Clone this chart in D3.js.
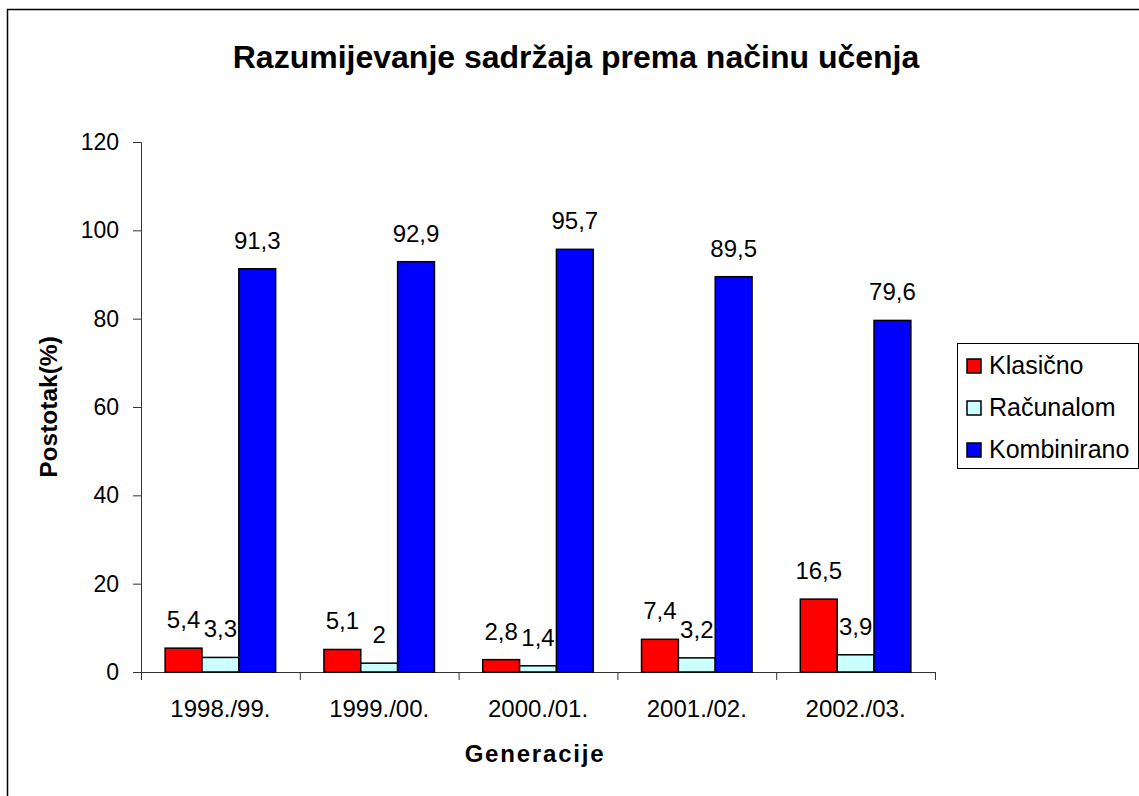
<!DOCTYPE html>
<html>
<head>
<meta charset="utf-8">
<script src="https://cdn.jsdelivr.net/npm/d3@7"></script>
<style>
  body { margin: 0; background: #fff; }
  text { font-family: "Liberation Sans", Arial, sans-serif; fill: #000; }
</style>
</head>
<body>
<svg id="chart" width="1139" height="796"></svg>
<script>
// chart data
var generacije = ["1998./99.", "1999./00.", "2000./01.", "2001./02.", "2002./03."];
var serije = ["Klasično", "Računalom", "Kombinirano"];
var klasicno = [5.4, 5.1, 2.8, 7.4, 16.5];
var racunalom = [3.3, 2, 1.4, 3.2, 3.9];
var kombinirano = [91.3, 92.9, 95.7, 89.5, 79.6];
var yTicks = [0, 20, 40, 60, 80, 100, 120];
var boje = ["#ff0000", "#ccffff", "#0000ff"];

var values = [klasicno, racunalom, kombinirano];

var svg = d3.select("#chart");

// outer frame (runs off the right and bottom edge)
svg.append("rect")
    .attr("x", 7.5).attr("y", 9.5)
    .attr("width", 1200).attr("height", 900)
    .attr("fill", "#fff")
    .attr("stroke", "#000")
    .attr("stroke-width", 1.5);

var plotLeft = 141, plotRight = 935, plotTop = 142, plotBottom = 672;

var x = d3.scaleBand().domain(generacije).range([plotLeft, plotRight]).paddingInner(0).paddingOuter(0);
var barW = x.bandwidth() * 0.232;
var gap = (x.bandwidth() - 3 * barW) / 2;

var y = d3.scaleLinear().domain([0, 120]).range([plotBottom, plotTop]);

// title
svg.append("text")
    .attr("x", 576).attr("y", 68)
    .attr("text-anchor", "middle")
    .style("font-size", "32px")
    .style("font-weight", "bold")
    .text("Razumijevanje sadržaja prema načinu učenja");

// y axis
var yAxis = d3.axisLeft(y).tickValues(yTicks).tickSize(8).tickPadding(14).tickFormat(d3.format("d"));
var gy = svg.append("g").attr("transform", "translate(" + plotLeft + ",0)").call(yAxis);
gy.select(".domain").attr("stroke", "#333");
gy.selectAll(".tick line").attr("stroke", "#333");
gy.selectAll("text").style("font-size", "23px").style("font-family", "'Liberation Sans', Arial, sans-serif");

// x axis: ticks on category boundaries
svg.append("line")
    .attr("x1", plotLeft).attr("x2", plotRight)
    .attr("y1", plotBottom + 0.5).attr("y2", plotBottom + 0.5)
    .attr("stroke", "#333");
var granice = generacije.map(function(g){ return x(g); }).concat([plotRight]);
svg.selectAll("line.xt")
    .data(granice)
    .enter().append("line")
    .attr("class", "xt")
    .attr("x1", function(d){ return d + 0.5; })
    .attr("x2", function(d){ return d + 0.5; })
    .attr("y1", plotBottom).attr("y2", plotBottom + 8)
    .attr("stroke", "#333");

svg.selectAll("text.xl")
    .data(generacije)
    .enter().append("text")
    .attr("class", "xl")
    .attr("x", function(d){ return x(d) + x.bandwidth() / 2; })
    .attr("y", 717)
    .attr("text-anchor", "middle")
    .style("font-size", "24px")
    .text(function(d){ return d; });

// axis titles
svg.append("text")
    .attr("x", 535).attr("y", 762)
    .attr("text-anchor", "middle")
    .style("font-size", "24px")
    .style("font-weight", "bold")
    .style("letter-spacing", "1.8px")
    .text("Generacije");

svg.append("text")
    .attr("transform", "translate(57," + ((plotTop + plotBottom) / 2) + ") rotate(-90)")
    .attr("text-anchor", "middle")
    .style("font-size", "24.5px")
    .style("font-weight", "bold")
    .text("Postotak(%)");

// bars
values.forEach(function(serija, s){
    svg.selectAll("rect.b" + s)
        .data(serija)
        .enter().append("rect")
        .attr("class", "b" + s)
        .attr("x", function(d, i){ return x(generacije[i]) + gap + s * barW; })
        .attr("y", function(d){ return y(d); })
        .attr("width", barW)
        .attr("height", function(d){ return plotBottom - y(d); })
        .attr("fill", boje[s])
        .attr("stroke", "#000")
        .attr("stroke-width", 1.5);

    svg.selectAll("text.v" + s)
        .data(serija)
        .enter().append("text")
        .attr("class", "v" + s)
        .attr("x", function(d, i){ return x(generacije[i]) + gap + s * barW + barW / 2; })
        .attr("y", function(d){ return y(d) - 20; })
        .attr("text-anchor", "middle")
        .style("font-size", "24px")
        .text(function(d){ return String(d).replace(".", ","); });
});

// legend
var lg = svg.append("g");
lg.append("rect")
    .attr("x", 957.5).attr("y", 343.5)
    .attr("width", 181).attr("height", 125)
    .attr("fill", "#fff")
    .attr("stroke", "#000");
serije.forEach(function(naziv, i){
    var cy = 366 + i * 42;
    lg.append("rect")
        .attr("x", 967).attr("y", cy - 7)
        .attr("width", 14).attr("height", 14)
        .attr("fill", boje[i])
        .attr("stroke", "#000")
        .attr("stroke-width", 1.5);
    lg.append("text")
        .attr("x", 989).attr("y", cy + 8)
        .style("font-size", "25px")
        .text(naziv);
});
</script>
</body>
</html>
